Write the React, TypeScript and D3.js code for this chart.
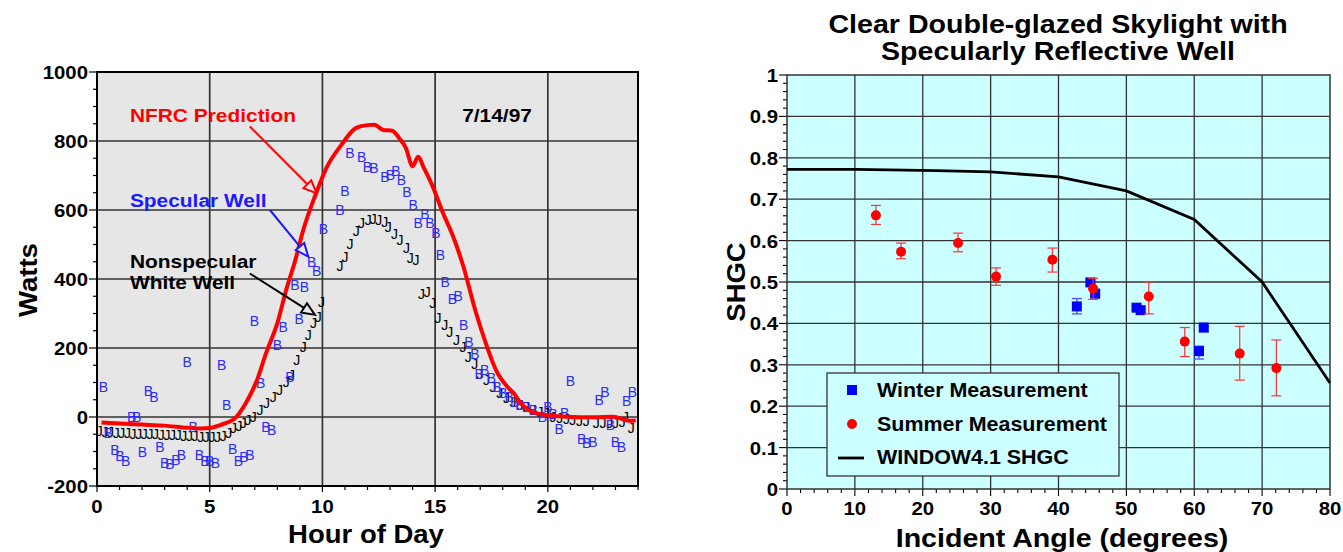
import React from "react";
import * as d3 from "d3";

const W = 1343;
const H = 552;
const FONT = "'Liberation Sans', Arial, Helvetica, sans-serif";
const SX = 1.1; // the source text is drawn slightly wide

// ---- left chart: hour of day vs watts ----
const hourTicks = [0, 5, 10, 15, 20];
const wattTicks = [-200, 0, 200, 400, 600, 800, 1000];

// NFRC prediction (red line) [hour, watts]
const nfrcPrediction = [
  [0.2, -16], [1, -19], [2, -22], [3, -25], [4, -31], [4.6, -33], [5, -32], [5.4, -25], [5.7, -18],
  [6.1, -5], [6.6, 40], [7.1, 107], [7.5, 185], [8, 272], [8.4, 370], [8.8, 455], [9.15, 542],
  [9.7, 645], [10.2, 725], [10.8, 785], [11.5, 838], [12, 846], [12.3, 847], [12.7, 832],
  [13.1, 830], [13.4, 809], [13.7, 780], [14, 727], [14.25, 754], [14.5, 722], [14.9, 667],
  [15.35, 591], [15.8, 523], [16.25, 437], [16.8, 305], [17.3, 204], [17.7, 136], [18.2, 88],
  [18.5, 68], [18.8, 40], [19.3, 15], [19.9, 6], [20.8, 1], [22, -1], [22.9, 1], [23.6, -11], [23.9, -10],
];

// Specular well measurements (blue "B") [hour, watts]
const specularWell = [
  [0.28, 88], [0.5, -47], [0.8, -96], [1.02, -112], [1.27, -128], [1.54, 1], [1.76, 1], [2.02, -100],
  [2.28, 76], [2.53, 57], [2.79, -86], [3.0, -132], [3.24, -136], [3.5, -125], [3.75, -110],
  [4.0, 160], [4.27, -28], [4.54, -110], [4.79, -128], [5.0, -128], [5.25, -132], [5.53, 151],
  [5.75, 35], [6.02, -93], [6.27, -126], [6.52, -115], [6.78, -110], [6.98, 278], [7.26, 98],
  [7.49, -28], [7.75, -38], [8.0, 209], [8.26, 262], [8.56, 115], [8.78, 383], [8.97, 283],
  [9.2, 378], [9.52, 450], [9.74, 424], [10.04, 544], [10.78, 600], [11.0, 655], [11.22, 764],
  [11.74, 754], [12.0, 725], [12.28, 723], [12.77, 695], [13.02, 701], [13.26, 714], [13.51, 687],
  [13.75, 652], [14.03, 614], [14.25, 561], [14.55, 588], [14.77, 563], [15.03, 534], [15.24, 470],
  [15.45, 392], [15.77, 341], [16.02, 351], [16.27, 267], [16.5, 218], [16.76, 183], [16.95, 126],
  [17.2, 136], [17.5, 112], [17.75, 88], [18.0, 69], [18.28, 59], [18.53, 44], [18.76, 35],
  [19.05, 30], [19.35, 20], [19.76, 1], [20.0, 28], [20.23, 9], [20.5, -36], [20.75, 11], [21.0, 105],
  [21.5, -65], [21.72, -74], [22.0, -72], [22.28, 49], [22.53, 73], [22.78, -23], [23.0, -72],
  [23.27, -86], [23.5, 47], [23.75, 73],
];

// Nonspecular white well measurements (black "J") [hour, watts]
const nonspecularWell = [
  [0.1, -40], [0.35, -42], [0.6, -44], [0.85, -45], [1.1, -46], [1.35, -47], [1.6, -48], [1.85, -48],
  [2.1, -49], [2.35, -50], [2.6, -50], [2.85, -51], [3.1, -52], [3.35, -52], [3.6, -53], [3.85, -54],
  [4.1, -55], [4.35, -56], [4.6, -57], [4.85, -57], [5.1, -58], [5.35, -58], [5.6, -55], [5.85, -45],
  [6.05, -33], [6.3, -25], [6.49, -18], [6.7, -8], [6.93, 1], [7.23, 20], [7.52, 40], [7.82, 59],
  [8.1, 78], [8.4, 102], [8.63, 122], [8.86, 165], [9.15, 204], [9.37, 238], [9.6, 272], [9.81, 291],
  [9.96, 334], [10.78, 438], [11.0, 465], [11.22, 503], [11.5, 540], [11.73, 561], [12.03, 571],
  [12.25, 573], [12.5, 570], [12.77, 566], [12.92, 551], [13.2, 532], [13.44, 513], [13.73, 489],
  [13.9, 460], [14.15, 455], [14.4, 358], [14.65, 363], [14.9, 330], [15.13, 286], [15.43, 267],
  [15.65, 247], [15.95, 223], [16.24, 202], [16.47, 175], [16.76, 155], [16.98, 126], [17.28, 107],
  [17.57, 88], [17.87, 69], [18.17, 54], [18.46, 44], [18.76, 35], [19.05, 30], [19.35, 20],
  [19.65, 15], [19.94, 11], [20.23, 1], [20.53, -4], [20.83, -7], [21.1, -9], [21.4, -11], [21.7, -11],
  [22.15, -16], [22.45, -16], [22.75, -18], [23.0, -16], [23.3, -14], [23.45, 1], [23.7, -33],
];

// ---- right chart: SHGC vs incident angle ----
const angleTicks = [0, 10, 20, 30, 40, 50, 60, 70, 80];
const shgcTicks = [0, 0.1, 0.2, 0.3, 0.4, 0.5, 0.6, 0.7, 0.8, 0.9, 1];

const window41Shgc = [
  [0, 0.772], [10, 0.772], [15, 0.771], [22, 0.769], [30, 0.766], [40, 0.754],
  [50, 0.72], [60, 0.651], [70, 0.5], [80, 0.256],
];

// [angle, shgc, low, high]
const winterMeasurements = [
  [42.7, 0.441, 0.423, 0.46], [44.7, 0.499, 0.492, 0.508], [45.4, 0.472, 0.462, 0.48],
  [51.5, 0.438, 0.433, 0.443], [52.1, 0.432, 0.427, 0.437], [60.7, 0.333, 0.314, 0.345],
  [61.4, 0.39, 0.38, 0.393],
];
const summerMeasurements = [
  [13.1, 0.661, 0.639, 0.685], [16.8, 0.573, 0.556, 0.594], [25.2, 0.594, 0.573, 0.618],
  [30.8, 0.513, 0.492, 0.534], [39.1, 0.554, 0.524, 0.582], [45.1, 0.484, 0.458, 0.509],
  [53.3, 0.465, 0.423, 0.5], [58.6, 0.356, 0.32, 0.39], [66.7, 0.327, 0.263, 0.393],
  [72.1, 0.292, 0.225, 0.36],
];

const T = ({ x, y, size, anchor = "start", fill = "#000", weight = "bold", rotate = 0, children }: any) => (
  <text
    transform={`translate(${x},${y}) rotate(${rotate}) scale(${SX},1)`}
    fontFamily={FONT}
    fontSize={size}
    fontWeight={weight}
    textAnchor={anchor}
    fill={fill}
  >
    {children}
  </text>
);

const Arrow = ({ x1, y1, x2, y2, color, bg }: any) => {
  const dx = x2 - x1, dy = y2 - y1;
  const len = Math.hypot(dx, dy);
  const ux = dx / len, uy = dy / len;
  const hl = 13, hw = 5.5;
  const bx = x2 - ux * hl, by = y2 - uy * hl;
  const pts = [
    [x2, y2],
    [bx - uy * hw, by + ux * hw],
    [bx + uy * hw, by - ux * hw],
  ];
  return (
    <g>
      <line x1={x1} y1={y1} x2={bx} y2={by} stroke={color} strokeWidth={2} />
      <polygon points={pts.map((p) => p.join(",")).join(" ")} fill={bg} stroke={color} strokeWidth={2} />
    </g>
  );
};

const LeftChart = () => {
  const x = d3.scaleLinear().domain([0, 24]).range([97, 638]);
  const y = d3.scaleLinear().domain([-200, 1000]).range([486, 72]);
  const line = d3.line<number[]>().x((d) => x(d[0])).y((d) => y(d[1])).curve(d3.curveMonotoneX);
  const minorY = d3.range(-200, 1001, 50);
  const minorX = d3.range(0, 25, 1);
  const bg = "#e6e6e6";
  return (
    <g>
      <rect x={x(0)} y={y(1000)} width={x(24) - x(0)} height={y(-200) - y(1000)} fill={bg} />
      {hourTicks.slice(1).map((t) => (
        <line key={"gx" + t} x1={x(t)} x2={x(t)} y1={y(1000)} y2={y(-200)} stroke="#333" strokeWidth={1.7} />
      ))}
      {wattTicks.slice(1, -1).map((t) => (
        <line key={"gy" + t} x1={x(0)} x2={x(24)} y1={y(t)} y2={y(t)} stroke="#333" strokeWidth={1.7} />
      ))}
      {minorY.map((t) => (
        <line key={"my" + t} x1={x(0) - (t % 200 === 0 ? 8 : 4)} x2={x(0)} y1={y(t)} y2={y(t)} stroke="#000" strokeWidth={1.2} />
      ))}
      {minorX.map((t) => (
        <line key={"mx" + t} x1={x(t)} x2={x(t)} y1={y(-200)} y2={y(-200) + (t % 5 === 0 ? 6 : 4)} stroke="#000" strokeWidth={1.2} />
      ))}
      <rect x={x(0)} y={y(1000)} width={x(24) - x(0)} height={y(-200) - y(1000)} fill="none" stroke="#000" strokeWidth={2} />

      {nonspecularWell.map((d, i) => (
        <text key={"j" + i} x={x(d[0])} y={y(d[1])} dy="0.36em" textAnchor="middle" fontFamily={FONT} fontSize={14} fill="#000">
          J
        </text>
      ))}
      {specularWell.map((d, i) => (
        <text key={"b" + i} x={x(d[0])} y={y(d[1])} dy="0.36em" textAnchor="middle" fontFamily={FONT} fontSize={14} fill="#2b2bff">
          B
        </text>
      ))}
      <path d={line(nfrcPrediction as any) || ""} fill="none" stroke="#ff0000" strokeWidth={4} strokeLinejoin="round" />

      <T x={x(1.46)} y={y(855)} size={19} fill="#ff0000">NFRC Prediction</T>
      <Arrow x1={x(6.78)} y1={y(842)} x2={x(9.74)} y2={y(648)} color="#ff0000" bg={bg} />
      <T x={x(1.46)} y={y(609)} size={19} fill="#1a1aff">Specular Well</T>
      <Arrow x1={x(7.67)} y1={y(600)} x2={x(9.37)} y2={y(465)} color="#1a1aff" bg={bg} />
      <T x={x(1.46)} y={y(432)} size={19}>Nonspecular</T>
      <T x={x(1.46)} y={y(371)} size={19}>White Well</T>
      <Arrow x1={x(6.78)} y1={y(416)} x2={x(9.67)} y2={y(296)} color="#000" bg={bg} />
      <T x={x(16.2)} y={y(855)} size={19}>7/14/97</T>

      {wattTicks.map((t) => (
        <T key={"ly" + t} x={88} y={y(t) + 7} size={18.5} anchor="end">{t}</T>
      ))}
      {hourTicks.map((t) => (
        <T key={"lx" + t} x={x(t)} y={513} size={18.5} anchor="middle">{t}</T>
      ))}
      <T x={37} y={280} size={25} anchor="middle" rotate={-90}>Watts</T>
      <T x={366} y={543} size={25} anchor="middle">Hour of Day</T>
    </g>
  );
};

const RightChart = () => {
  const x = d3.scaleLinear().domain([0, 80]).range([787, 1330]);
  const y = d3.scaleLinear().domain([0, 1]).range([489, 75]);
  const line = d3.line<number[]>().x((d) => x(d[0])).y((d) => y(d[1]));
  const minorY = d3.range(0, 51, 1).map((i) => i * 0.02);
  const minorX = d3.range(0, 81, 2);
  const bg = "#ccffff";
  return (
    <g>
      <rect x={x(0)} y={y(1)} width={x(80) - x(0)} height={y(0) - y(1)} fill={bg} />
      {angleTicks.slice(1, -1).map((t) => (
        <line key={"gx" + t} x1={x(t)} x2={x(t)} y1={y(1)} y2={y(0)} stroke="#333" strokeWidth={1.3} />
      ))}
      {shgcTicks.slice(1, -1).map((t) => (
        <line key={"gy" + t} x1={x(0)} x2={x(80)} y1={y(t)} y2={y(t)} stroke="#333" strokeWidth={1.3} />
      ))}
      {minorY.map((t, i) => (
        <line key={"my" + i} x1={x(0) - (i % 5 === 0 ? 8 : 4)} x2={x(0)} y1={y(t)} y2={y(t)} stroke="#000" strokeWidth={1.1} />
      ))}
      {minorX.map((t) => (
        <line key={"mx" + t} x1={x(t)} x2={x(t)} y1={y(0)} y2={y(0) + (t % 10 === 0 ? 7 : 4)} stroke="#000" strokeWidth={1.1} />
      ))}
      <rect x={x(0)} y={y(1)} width={x(80) - x(0)} height={y(0) - y(1)} fill="none" stroke="#333" strokeWidth={1.5} />

      <path d={line(window41Shgc as any) || ""} fill="none" stroke="#000" strokeWidth={2.8} />

      {winterMeasurements.map((d, i) => (
        <g key={"w" + i}>
          <line x1={x(d[0])} x2={x(d[0])} y1={y(d[2])} y2={y(d[3])} stroke="#4d4dff" strokeWidth={1.3} />
          <line x1={x(d[0]) - 5} x2={x(d[0]) + 5} y1={y(d[2])} y2={y(d[2])} stroke="#4d4dff" strokeWidth={1.3} />
          <line x1={x(d[0]) - 5} x2={x(d[0]) + 5} y1={y(d[3])} y2={y(d[3])} stroke="#4d4dff" strokeWidth={1.3} />
          <rect x={x(d[0]) - 5} y={y(d[1]) - 5} width={10} height={10} fill="#0000ff" />
        </g>
      ))}
      {summerMeasurements.map((d, i) => (
        <g key={"s" + i}>
          <line x1={x(d[0])} x2={x(d[0])} y1={y(d[2])} y2={y(d[3])} stroke="#ff3333" strokeWidth={1.2} />
          <line x1={x(d[0]) - 5} x2={x(d[0]) + 5} y1={y(d[2])} y2={y(d[2])} stroke="#ff3333" strokeWidth={1.2} />
          <line x1={x(d[0]) - 5} x2={x(d[0]) + 5} y1={y(d[3])} y2={y(d[3])} stroke="#ff3333" strokeWidth={1.2} />
          <circle cx={x(d[0])} cy={y(d[1])} r={5} fill="#ff0000" />
        </g>
      ))}

      <g>
        <rect x={827} y={373} width={292} height={103} fill={bg} stroke="#333" strokeWidth={1.3} />
        <rect x={847} y={385} width={10} height={10} fill="#0000ff" />
        <circle cx={852} cy={424} r={5} fill="#ff0000" />
        <line x1={838} x2={864} y1={458} y2={458} stroke="#000" strokeWidth={2.8} />
        <T x={877} y={397} size={19.5}>Winter Measurement</T>
        <T x={877} y={431} size={19.5}>Summer Measurement</T>
        <T x={877} y={464} size={19.5}>WINDOW4.1 SHGC</T>
      </g>

      {shgcTicks.map((t) => (
        <T key={"ry" + t} x={778} y={y(t) + 7} size={18.5} anchor="end">{String(+t.toFixed(1))}</T>
      ))}
      {angleTicks.map((t) => (
        <T key={"rx" + t} x={x(t)} y={515} size={18.5} anchor="middle">{t}</T>
      ))}
      <T x={745} y={282} size={25} anchor="middle" rotate={-90}>SHGC</T>
      <T x={1062} y={547} size={26} anchor="middle">Incident Angle (degrees)</T>
      <T x={1058} y={33} size={26} anchor="middle">Clear Double-glazed Skylight with</T>
      <T x={1058} y={60} size={26} anchor="middle">Specularly Reflective Well</T>
    </g>
  );
};

export default function App() {
  return (
    <svg width={W} height={H} style={{ position: "absolute", left: 0, top: 0, background: "#fff" }}>
      <LeftChart />
      <RightChart />
    </svg>
  );
}
